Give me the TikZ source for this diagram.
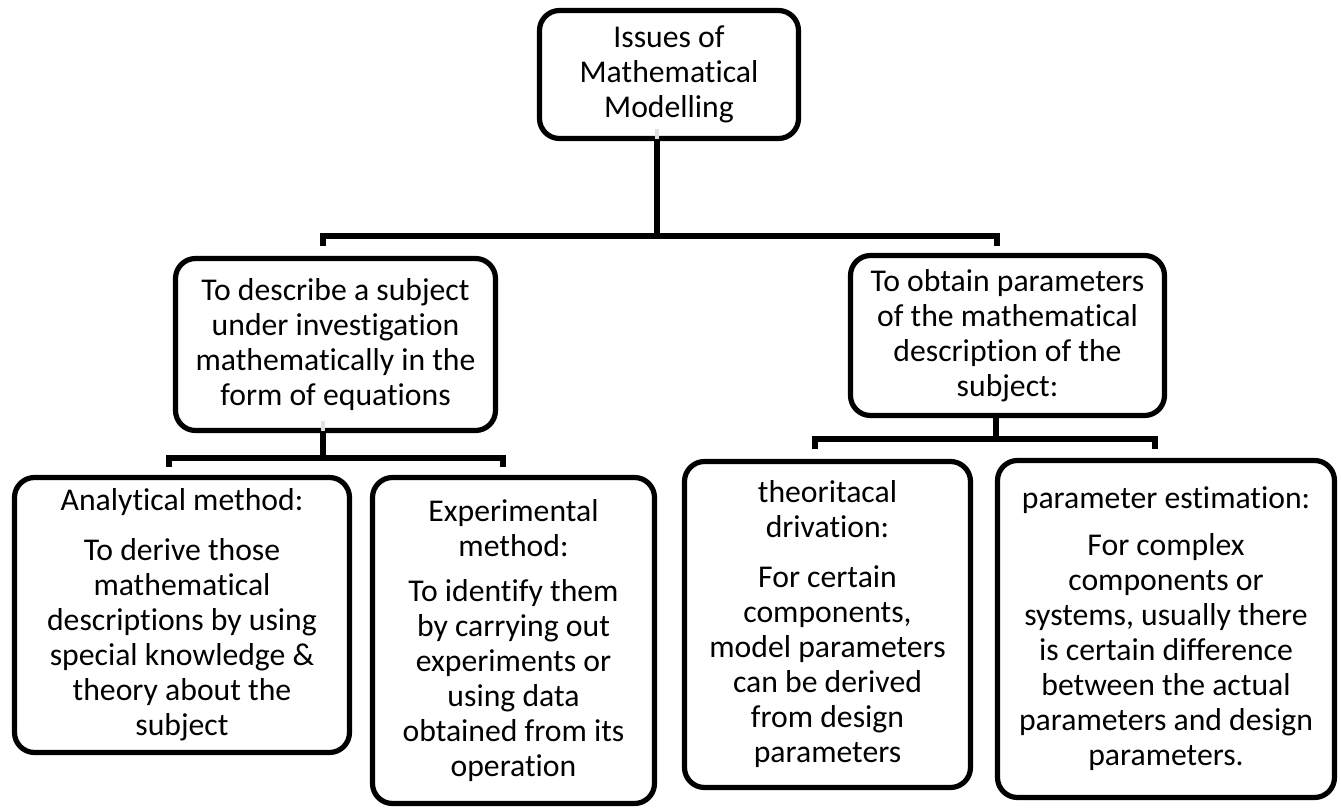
\documentclass[tikz,border=0pt]{standalone}
\usepackage{fontspec}
\setmainfont{Carlito}[Ligatures=NoCommon]
\begin{document}
\begin{tikzpicture}[x=0.5pt,y=-0.5pt,
  box/.style={draw, line width=2.6pt, rounded corners=10pt, align=center,
    inner sep=0pt, font=\fontsize{15.85pt}{17.5pt}\selectfont},
  conn/.style={line width=2.6pt, line join=miter, line cap=rect},
  stub/.style={line width=2.4pt, gray!25}]
\useasboundingbox (0,0) rectangle (1341,809);

% boxes
\node[box, minimum width=129.5pt, minimum height=64pt] (top) at (669,74.5)
  {Issues of\\Mathematical\\Modelling};
\node[box, minimum width=160pt, minimum height=86pt] (describe) at (335.5,344.5)
  {To describe a subject\\under investigation\\mathematically in the\\form of equations};
\node[box, minimum width=157pt, minimum height=80pt] (obtain) at (1007.5,335.5)
  {To obtain parameters\\of the mathematical\\description of the\\subject:};
\node[box, minimum width=167.5pt, minimum height=137.5pt] (analytical) at (182,615)
  {Analytical method:\\[7.5pt]To derive those\\mathematical\\descriptions by using\\special knowledge \&\\theory about the\\subject};
\node[box, minimum width=141pt, minimum height=163pt] (experimental) at (513.5,640.5)
  {Experimental\\method:\\[5pt]To identify them\\by carrying out\\experiments or\\using data\\obtained from its\\operation};
\node[box, minimum width=143pt, minimum height=163pt] (theory) at (827.5,624.5)
  {theoritacal\\drivation:\\[7.5pt]For certain\\components,\\model parameters\\can be derived\\from design\\parameters};
\node[box, minimum width=168.5pt, minimum height=168.5pt] (estimate) at (1166,629)
  {parameter estimation:\\[6pt]For complex\\components or\\systems, usually there\\is certain difference\\between the actual\\parameters and design\\parameters.};

% junction points of the bracket connectors
\coordinate (j1) at (657,236);
\coordinate (c1L) at (323,236);  \coordinate (c1R) at (997,236);
\coordinate (d1L) at (323,243);  \coordinate (d1R) at (997,243);
\coordinate (j2) at (323,458);
\coordinate (c2L) at (169,458);  \coordinate (c2R) at (503,458);
\coordinate (d2L) at (169,464);  \coordinate (d2R) at (503,464);
\coordinate (j3) at (996,439);
\coordinate (c3L) at (815,439);  \coordinate (c3R) at (1155,439);
\coordinate (d3L) at (815,446);  \coordinate (d3R) at (1155,446);

% faint stubs inside the parent boxes
\draw[stub] (top.south -| j1) -- ++(0,-12);
\draw[stub] (describe.south -| j2) -- ++(0,-12);

% connectors
\draw[conn] (top.south -| j1) -- (j1);
\draw[conn] (d1L) -- (c1L) -- (c1R) -- (d1R);
\draw[conn] (describe.south -| j2) -- (j2);
\draw[conn] (d2L) -- (c2L) -- (c2R) -- (d2R);
\draw[conn] (obtain.south -| j3) -- (j3);
\draw[conn] (d3L) -- (c3L) -- (c3R) -- (d3R);
\end{tikzpicture}
\end{document}
